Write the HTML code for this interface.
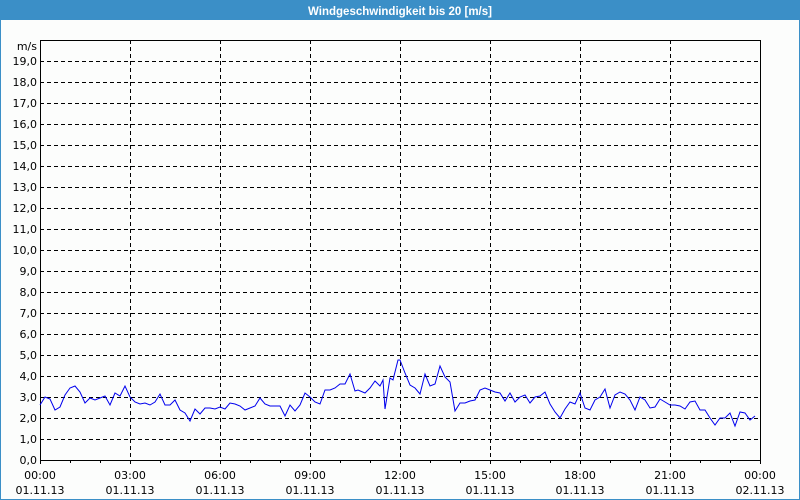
<!DOCTYPE html>
<html><head><meta charset="utf-8"><style>
html,body{margin:0;padding:0;}
body{width:800px;height:500px;overflow:hidden;background:#fcfdfc;font-family:"DejaVu Sans","Liberation Sans",sans-serif;}
</style></head><body>
<svg width="800" height="500" xmlns="http://www.w3.org/2000/svg" style="display:block">
<rect x="0" y="0" width="800" height="500" fill="#fcfdfc"/>
<rect x="0.5" y="0.5" width="799" height="499" fill="none" stroke="#3b8fc7"/>
<rect x="0" y="0" width="800" height="20" fill="#3b8fc7"/>
<text x="400" y="15" fill="#fff" font-size="11.5" font-weight="bold" text-anchor="middle" font-family="Liberation Sans, sans-serif">Windgeschwindigkeit bis 20 [m/s]</text>
<g stroke="#000" stroke-dasharray="4,3" stroke-width="1">
<path d="M40 439.5H760M40 418.5H760M40 397.5H760M40 376.5H760M40 355.5H760M40 334.5H760M40 313.5H760M40 292.5H760M40 271.5H760M40 250.5H760M40 229.5H760M40 208.5H760M40 187.5H760M40 166.5H760M40 145.5H760M40 124.5H760M40 103.5H760M40 82.5H760M40 61.5H760"/>
<path d="M130.5 40V460M220.5 40V460M310.5 40V460M400.5 40V460M490.5 40V460M580.5 40V460M670.5 40V460"/>
</g>
<rect x="40.5" y="40.5" width="720" height="420" fill="none" stroke="#000"/>
<g stroke="#000"><path d="M70.5 460v3M100.5 460v3M160.5 460v3M190.5 460v3M250.5 460v3M280.5 460v3M340.5 460v3M370.5 460v3M430.5 460v3M460.5 460v3M520.5 460v3M550.5 460v3M610.5 460v3M640.5 460v3M700.5 460v3M730.5 460v3M40.5 460v4M130.5 460v4M220.5 460v4M310.5 460v4M400.5 460v4M490.5 460v4M580.5 460v4M670.5 460v4M760.5 460v4"/></g>
<g font-size="11" fill="#000" text-anchor="end" font-family="DejaVu Sans, Liberation Sans, sans-serif">
<text x="37" y="50">m/s</text>
<text x="37" y="65">19,0</text><text x="37" y="86">18,0</text><text x="37" y="107">17,0</text><text x="37" y="128">16,0</text><text x="37" y="149">15,0</text><text x="37" y="170">14,0</text><text x="37" y="191">13,0</text><text x="37" y="212">12,0</text><text x="37" y="233">11,0</text><text x="37" y="254">10,0</text><text x="37" y="275">9,0</text><text x="37" y="296">8,0</text><text x="37" y="317">7,0</text><text x="37" y="338">6,0</text><text x="37" y="359">5,0</text><text x="37" y="380">4,0</text><text x="37" y="401">3,0</text><text x="37" y="422">2,0</text><text x="37" y="443">1,0</text><text x="37" y="464">0,0</text>
</g>
<g font-size="11" fill="#000" text-anchor="middle" font-family="DejaVu Sans, Liberation Sans, sans-serif">
<text x="40" y="479">00:00</text><text x="40" y="494">01.11.13</text>
<text x="130" y="479">03:00</text><text x="130" y="494">01.11.13</text>
<text x="220" y="479">06:00</text><text x="220" y="494">01.11.13</text>
<text x="310" y="479">09:00</text><text x="310" y="494">01.11.13</text>
<text x="400" y="479">12:00</text><text x="400" y="494">01.11.13</text>
<text x="490" y="479">15:00</text><text x="490" y="494">01.11.13</text>
<text x="580" y="479">18:00</text><text x="580" y="494">01.11.13</text>
<text x="670" y="479">21:00</text><text x="670" y="494">01.11.13</text>
<text x="760" y="479">00:00</text><text x="760" y="494">02.11.13</text>
</g>
<polyline fill="none" stroke="#0000ee" stroke-width="1" points="40,405 45,397 50,399 55,410 60,407 65,395 70,388 75,386 80,392 85,403 90,398 95,400 100,398 105,396 110,405 115,393 120,396 125,386 130,397 135,402 140,404 145,403 150,405 155,402 160,394 165,405 170,405 175,400 180,410 185,413 190,421 195,409 200,414 205,408 210,408 215,409 220,407 225,409 230,403 235,404 240,406 245,410 250,408 255,406 260,398 265,404 270,406 280,406 285,416 290,405 295,411 300,405 305,393 310,397 315,402 320,404 325,390 330,390 335,388 340,384 345,384 350,374 355,391 358,390 365,393 370,388 375,381 380,386 383,380 385,409 390,378 393,380 398,360 400,360 405,373 410,385 415,388 420,394 425,374 430,386 435,384 440,366 445,377 450,382 455,411 460,403 465,403 470,401 475,400 480,390 485,388 490,390 495,392 500,393 505,401 510,393 515,402 520,397 525,395 530,403 535,397 540,396 545,392 550,404 555,412 560,418 565,409 570,402 575,404 580,393 585,408 590,410 595,400 600,397 605,389 610,408 615,395 620,392 625,394 630,400 635,410 640,397 645,400 650,408 655,407 660,399 665,402 670,405 675,405 680,406 685,409 690,402 695,401 700,410 705,410 710,418 715,425 720,418 725,418 730,413 735,426 740,412 745,413 750,420 755,416"/>
</svg>
</body></html>
